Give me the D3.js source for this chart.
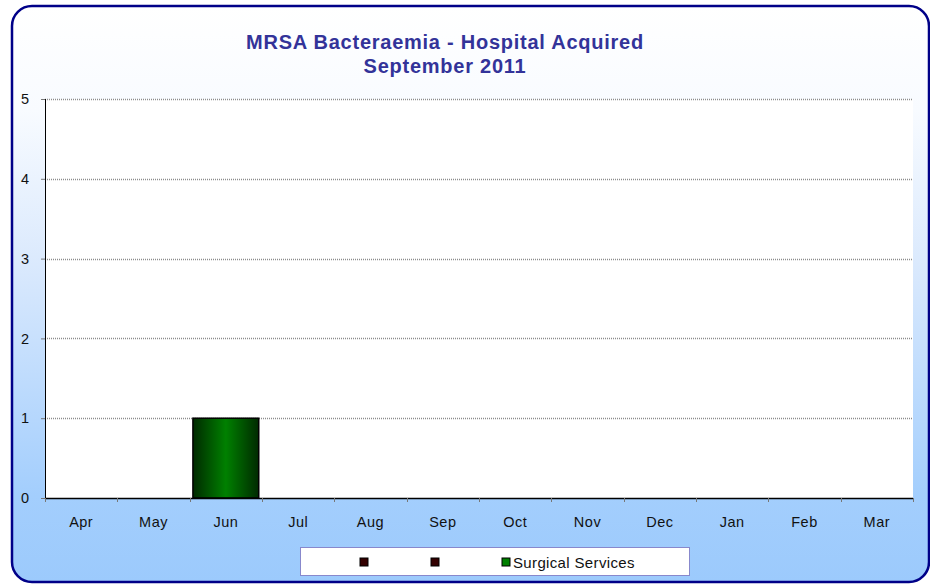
<!DOCTYPE html>
<html>
<head>
<meta charset="utf-8">
<script src="https://cdn.jsdelivr.net/npm/d3@7"></script>
<style>
  body { margin: 0; background: #fff; }
  svg { display: block; font-family: "Liberation Sans", Arial, sans-serif; }
</style>
</head>
<body>
<script>
const months = ["Apr", "May", "Jun", "Jul", "Aug", "Sep", "Oct", "Nov", "Dec", "Jan", "Feb", "Mar"];
const surgical = [0, 0, 1, 0, 0, 0, 0, 0, 0, 0, 0, 0];
const yTicks = [0, 1, 2, 3, 4, 5];
const legendItems = ["", "", "Surgical Services"];
const titleLines = ["MRSA Bacteraemia - Hospital Acquired", "September 2011"];

const W = 930, H = 584;
const plot = { left: 45, right: 913, top: 99, bottom: 498 };

const svg = d3.select("body").append("svg").attr("width", W).attr("height", H);
const defs = svg.append("defs");

const bg = defs.append("linearGradient").attr("id", "bg")
  .attr("x1", 0).attr("y1", 0).attr("x2", 0).attr("y2", 1);
bg.append("stop").attr("offset", "0").attr("stop-color", "#ffffff");
bg.append("stop").attr("offset", "0.18").attr("stop-color", "#f8fbff");
bg.append("stop").attr("offset", "0.45").attr("stop-color", "#dae9fd");
bg.append("stop").attr("offset", "0.85").attr("stop-color", "#a3cefd");
bg.append("stop").attr("offset", "1").attr("stop-color", "#9ccafc");

const barGrad = defs.append("linearGradient").attr("id", "barGrad")
  .attr("x1", 0).attr("y1", 0).attr("x2", 1).attr("y2", 0);
barGrad.append("stop").attr("offset", "0").attr("stop-color", "#002a00");
barGrad.append("stop").attr("offset", "0.5").attr("stop-color", "#008000");
barGrad.append("stop").attr("offset", "1").attr("stop-color", "#002a00");

// outer frame
svg.append("rect")
  .attr("x", 12).attr("y", 6).attr("width", 917).attr("height", 576)
  .attr("rx", 20).attr("ry", 20)
  .style("fill", "url(#bg)")
  .style("stroke", "#000088").style("stroke-width", 2.5);

// title
svg.append("text")
  .attr("text-anchor", "middle")
  .style("font-size", "20px").style("font-weight", "bold").style("fill", "#333399")
  .style("letter-spacing", "0.75px")
  .selectAll("tspan").data(titleLines).join("tspan")
  .attr("x", 445).attr("y", (d, i) => 49 + i * 24)
  .text(d => d);

const x = d3.scaleBand().domain(months).range([plot.left, plot.right]).paddingInner(0.09).paddingOuter(0.045);
const xb = d3.scaleBand().domain(months).range([plot.left, plot.right]);
const y = d3.scaleLinear().domain([0, 5]).range([plot.bottom, plot.top]);

svg.append("rect")
  .attr("x", plot.left).attr("y", plot.top)
  .attr("width", plot.right - plot.left).attr("height", plot.bottom - plot.top)
  .style("fill", "#ffffff");

// gridlines
svg.append("g").selectAll("line").data(yTicks.filter(d => d > 0)).join("line")
  .attr("x1", plot.left).attr("x2", plot.right)
  .attr("y1", d => Math.round(y(d)) + 0.5).attr("y2", d => Math.round(y(d)) + 0.5)
  .style("stroke", "#8c8c8c").style("stroke-width", 1.3).style("stroke-dasharray", "1,1");

// bars
svg.append("g").selectAll("rect").data(months.filter((m, i) => surgical[i] > 0)).join("rect")
  .attr("x", m => x(m))
  .attr("y", m => y(surgical[months.indexOf(m)]))
  .attr("width", x.bandwidth())
  .attr("height", m => y(0) - y(surgical[months.indexOf(m)]))
  .style("fill", "url(#barGrad)")
  .style("stroke", "#000").style("stroke-width", 1.5);

const labelFont = "Liberation Sans, Arial, sans-serif";

// y axis
const yAxis = svg.append("g").attr("transform", `translate(${plot.left},0)`)
  .call(d3.axisLeft(y).tickValues(yTicks).tickSize(4).tickPadding(12).tickFormat(d3.format("d")));
yAxis.select(".domain").attr("d", `M0.5,${plot.top}V${plot.bottom}`).style("stroke", "#000");
yAxis.selectAll(".tick line").style("stroke", "#777");
yAxis.selectAll("text").attr("font-size", null).attr("font-family", null)
  .style("font-size", "14.5px").style("fill", "#111").style("font-family", labelFont);

// x axis
const xAxis = svg.append("g").attr("transform", `translate(0,${plot.bottom})`)
  .call(d3.axisBottom(xb).tickSize(0).tickPadding(19));
xAxis.select(".domain").attr("d", `M${plot.left},0.5H${plot.right}`).style("stroke", "#000").style("stroke-width", 1.5);
xAxis.selectAll("text").style("font-size", "14.5px").style("letter-spacing", "0.5px")
  .style("fill", "#111").style("font-family", labelFont);
xAxis.attr("font-size", null).attr("font-family", null);
yAxis.attr("font-size", null).attr("font-family", null);
svg.append("g").selectAll("line").data(months.concat(["end"])).join("line")
  .attr("x1", (d, i) => Math.round(plot.left + i * xb.step()) + 0.5)
  .attr("x2", (d, i) => Math.round(plot.left + i * xb.step()) + 0.5)
  .attr("y1", plot.bottom).attr("y2", plot.bottom + 4)
  .style("stroke", "#777");

// legend
const lg = svg.append("g");
lg.append("rect").attr("x", 300.5).attr("y", 547.5).attr("width", 389).attr("height", 28)
  .style("fill", "#fff").style("stroke", "#8888cc");
const legColors = ["#330000", "#330000", "#008000"];
const lx = [360, 431, 502];
legendItems.forEach((t, i) => {
  lg.append("rect").attr("x", lx[i]).attr("y", 558).attr("width", 8).attr("height", 8)
    .style("fill", legColors[i]).style("stroke", "#000").style("stroke-width", 1);
  if (t) lg.append("text").attr("x", lx[i] + 11).attr("y", 568)
    .style("font-size", "15px").style("letter-spacing", "0.35px").style("fill", "#111").text(t);
});
</script>
</body>
</html>
